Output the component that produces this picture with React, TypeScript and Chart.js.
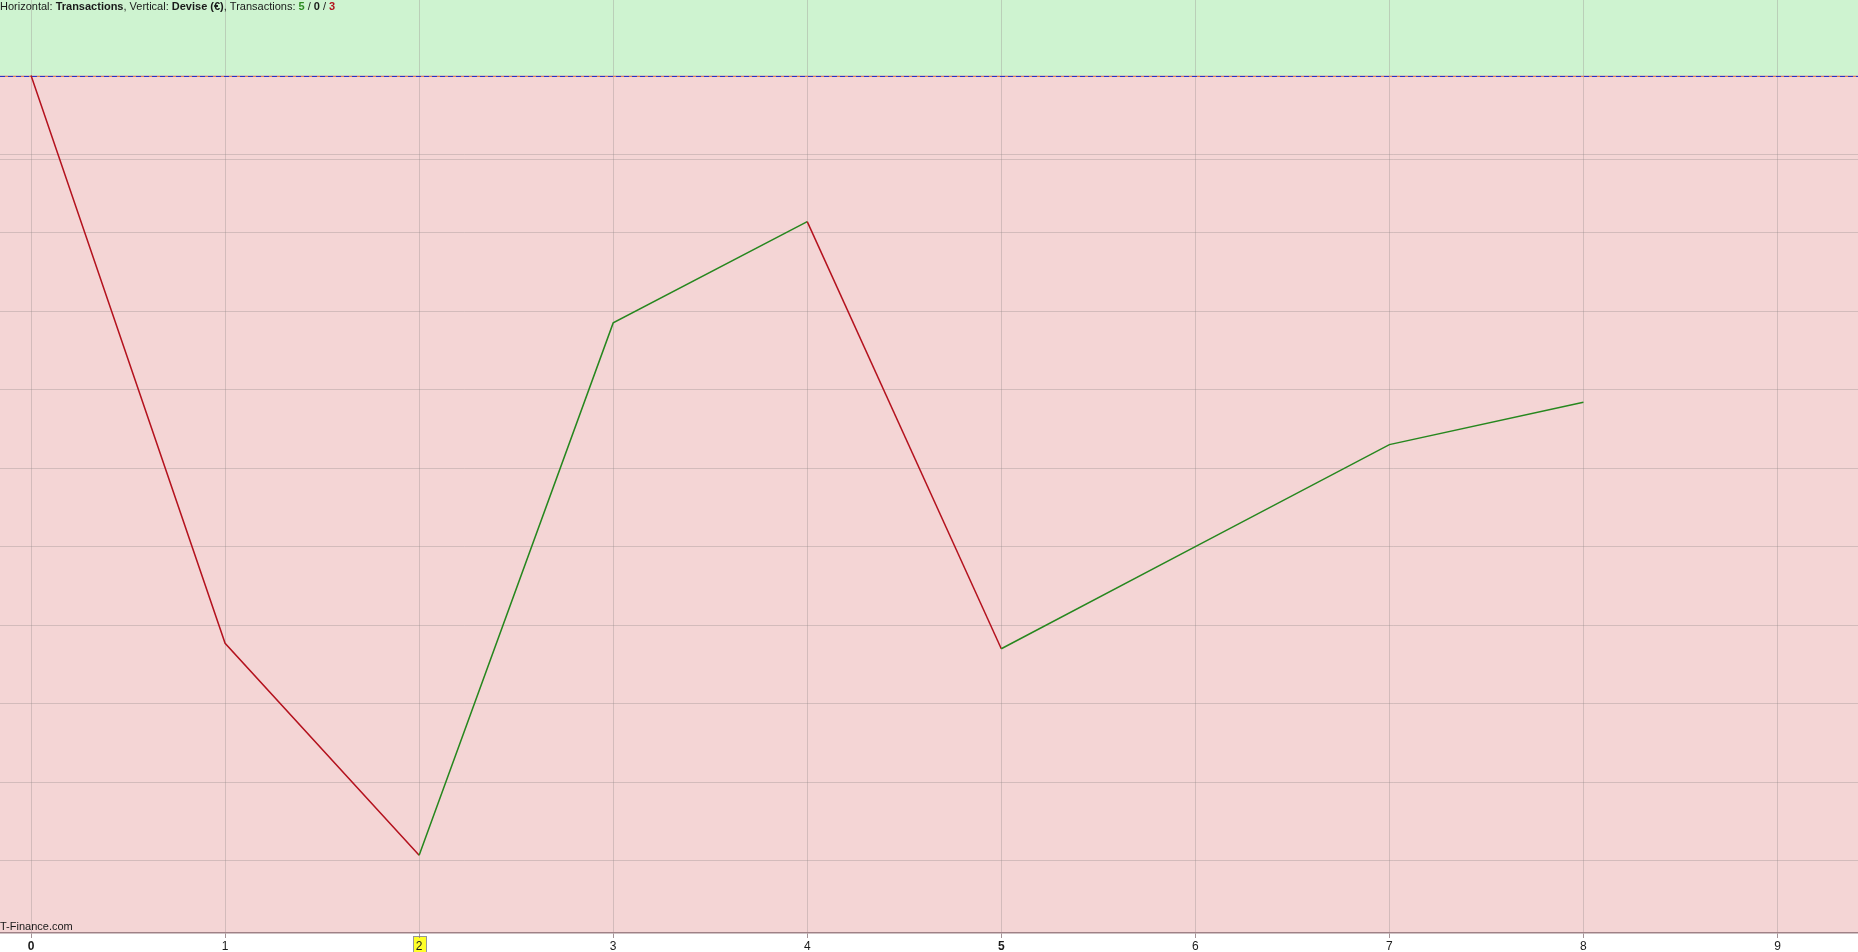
import React, { useEffect, useRef } from "react";
import { Chart, registerables } from "chart.js";

Chart.register(...registerables);

// ---- data ----
const transactionIndex = [0, 1, 2, 3, 4, 5, 6, 7, 8];
const equityValues = [0, -72.3, -99.3, -31.5, -18.6, -73.0, -60.0, -47.0, -41.6];
const xTickValues = [0, 1, 2, 3, 4, 5, 6, 7, 8, 9];
const yGridValues = [0, -10, -20, -30, -40, -50, -60, -70, -80, -90, -100];
const boldTicks = [0, 5];
const highlightTick = 2;
const baseLevel = 0;
const extraLevel = -10.6;
const headerParts = [
  { text: "Horizontal: ", bold: false, color: "#1a1a1a" },
  { text: "Transactions", bold: true, color: "#1a1a1a" },
  { text: ", Vertical: ", bold: false, color: "#1a1a1a" },
  { text: "Devise (€)", bold: true, color: "#1a1a1a" },
  { text: ", Transactions: ", bold: false, color: "#1a1a1a" },
  { text: "5", bold: true, color: "#2e8b22" },
  { text: " / ", bold: false, color: "#1a1a1a" },
  { text: "0", bold: true, color: "#1a1a1a" },
  { text: " / ", bold: false, color: "#1a1a1a" },
  { text: "3", bold: true, color: "#b3131c" },
];
const watermark = "T-Finance.com";

const FONT = '"Liberation Sans", Arial, sans-serif';
const GREEN_BG = "rgb(206,243,208)";
const RED_BG = "rgb(244,213,213)";
const LINE_GREEN = "rgb(38,135,30)";
const LINE_RED = "rgb(180,18,30)";
const GRID = "rgba(150,140,140,0.35)";

const zonesPlugin = {
  id: "zones",
  beforeDraw(chart: any) {
    const { ctx, chartArea, scales } = chart;
    const yb = scales.y.getPixelForValue(baseLevel);
    ctx.save();
    ctx.fillStyle = GREEN_BG;
    ctx.fillRect(chartArea.left, chartArea.top, chartArea.right - chartArea.left, yb - chartArea.top);
    ctx.fillStyle = RED_BG;
    ctx.fillRect(chartArea.left, yb, chartArea.right - chartArea.left, chartArea.bottom - yb);
    // highlighted tick label box
    const xs = scales.x.getPixelForValue(highlightTick);
    ctx.font = `12px ${FONT}`;
    const w = ctx.measureText(String(highlightTick)).width;
    const bx = Math.round(xs - w / 2 - 3) + 0.5;
    const by = Math.round(chartArea.bottom + 3) + 0.5;
    ctx.fillStyle = "rgb(255,255,40)";
    ctx.fillRect(bx, by, Math.round(w + 6), 20);
    ctx.strokeStyle = "rgb(150,150,150)";
    ctx.lineWidth = 1;
    ctx.strokeRect(bx, by, Math.round(w + 6), 20);
    ctx.restore();
  },
  beforeDatasetsDraw(chart: any) {
    const { ctx, chartArea, scales } = chart;
    const ye = Math.round(scales.y.getPixelForValue(extraLevel)) + 0.5;
    ctx.save();
    ctx.strokeStyle = GRID;
    ctx.lineWidth = 1;
    ctx.beginPath();
    ctx.moveTo(chartArea.left, ye);
    ctx.lineTo(chartArea.right, ye);
    ctx.stroke();
    const yb = Math.round(scales.y.getPixelForValue(baseLevel)) + 0.5;
    ctx.strokeStyle = "rgb(225,130,80)";
    ctx.beginPath();
    ctx.moveTo(chartArea.left, yb);
    ctx.lineTo(chartArea.right, yb);
    ctx.stroke();
    ctx.strokeStyle = "rgb(40,50,200)";
    ctx.setLineDash([5, 3]);
    ctx.beginPath();
    ctx.moveTo(chartArea.left, yb);
    ctx.lineTo(chartArea.right, yb);
    ctx.stroke();
    ctx.restore();
  },
  afterDraw(chart: any) {
    const { ctx, chartArea } = chart;
    ctx.save();
    let x = 0;
    ctx.textBaseline = "top";
    for (const p of headerParts) {
      ctx.font = `${p.bold ? "bold " : ""}11px ${FONT}`;
      ctx.fillStyle = p.color;
      ctx.fillText(p.text, x, 1);
      x += ctx.measureText(p.text).width;
    }
    ctx.font = `11px ${FONT}`;
    ctx.fillStyle = "#1a1a1a";
    ctx.textBaseline = "alphabetic";
    ctx.fillText(watermark, 0, chartArea.bottom - 3);
    ctx.restore();
  },
};

export default function App() {
  const ref = useRef<HTMLCanvasElement>(null);
  useEffect(() => {
    document.body.style.margin = "0";
    const chart = new Chart(ref.current!, {
      type: "line",
      data: {
        datasets: [
          {
            data: transactionIndex.map((t, i) => ({ x: t, y: equityValues[i] })),
            borderWidth: 1.5,
            pointRadius: 0,
            tension: 0,
            fill: false,
            borderColor: LINE_RED,
            segment: {
              borderColor: (c: any) => (c.p1.parsed.y >= c.p0.parsed.y ? LINE_GREEN : LINE_RED),
            },
          },
        ],
      },
      options: {
        animation: false,
        responsive: true,
        maintainAspectRatio: false,
        layout: { padding: 0 },
        plugins: { legend: { display: false }, tooltip: { enabled: false } },
        scales: {
          x: {
            type: "linear",
            min: -0.16,
            max: 9.415,
            afterBuildTicks: (s: any) => {
              s.ticks = xTickValues.map((v) => ({ value: v }));
            },
            afterFit: (s: any) => {
              s.height = 19;
            },
            grid: { color: GRID, tickLength: 5, drawTicks: true, tickColor: "rgba(140,120,125,0.8)" },
            border: { color: "rgba(150,120,125,0.9)", width: 1.5 },
            ticks: {
              padding: 1,
              color: "#1a1a1a",
              maxRotation: 0,
              autoSkip: false,
              callback: (v: any) => String(v),
              font: (c: any) => ({
                family: FONT,
                size: 12,
                weight: boldTicks.includes(c.tick?.value) ? "bold" : "normal",
              }),
            } as any,
          },
          y: {
            type: "linear",
            min: -109.2,
            max: 9.62,
            afterBuildTicks: (s: any) => {
              s.ticks = yGridValues.map((v) => ({ value: v }));
            },
            afterFit: (s: any) => {
              s.width = 0;
            },
            grid: { color: GRID, drawTicks: false },
            border: { display: false },
            ticks: { display: false },
          },
        },
      },
      plugins: [zonesPlugin],
    });
    return () => chart.destroy();
  }, []);
  return (
    <div style={{ position: "fixed", left: 0, top: 0, width: 1858, height: 952, background: "#fff" }}>
      <canvas ref={ref} />
    </div>
  );
}
